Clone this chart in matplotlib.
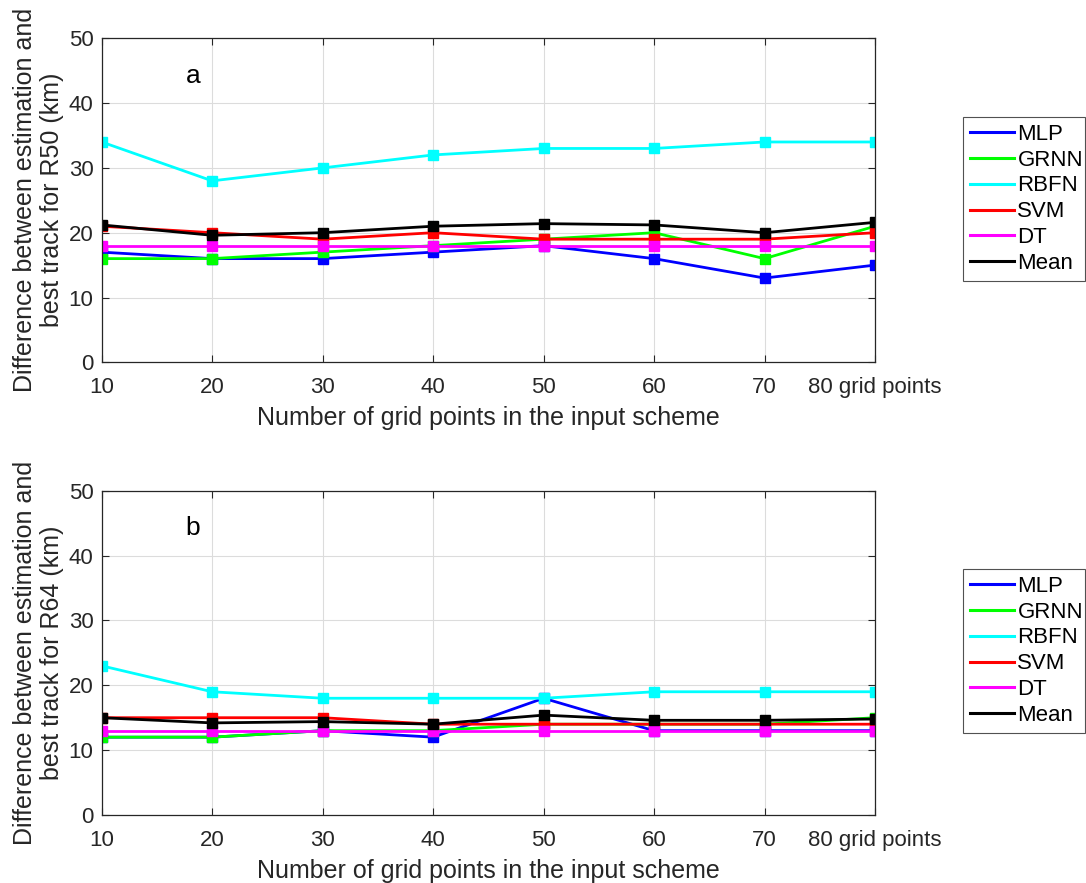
import matplotlib
matplotlib.use("Agg")
import matplotlib.pyplot as plt

plt.rcParams['font.family'] = ['Liberation Sans', 'DejaVu Sans']

x = [10, 20, 30, 40, 50, 60, 70, 80]
xticklabels = ['10', '20', '30', '40', '50', '60', '70', '80 grid points']
names = ['MLP', 'GRNN', 'RBFN', 'SVM', 'DT', 'Mean']
colors = ['#0000ff', '#00ff00', '#00ffff', '#ff0000', '#ff00ff', '#000000']

# Panel a: R50
mlp_a = [17, 16, 16, 17, 18, 16, 13, 15]
grnn_a = [16, 16, 17, 18, 19, 20, 16, 21]
rbfn_a = [34, 28, 30, 32, 33, 33, 34, 34]
svm_a = [21, 20, 19, 20, 19, 19, 19, 20]
dt_a = [18, 18, 18, 18, 18, 18, 18, 18]
mean_a = [21.2, 19.6, 20.0, 21.0, 21.4, 21.2, 20.0, 21.6]

# Panel b: R64
mlp_b = [12, 12, 13, 12, 18, 13, 13, 13]
grnn_b = [12, 12, 13, 13, 14, 14, 14, 15]
rbfn_b = [23, 19, 18, 18, 18, 19, 19, 19]
svm_b = [15, 15, 15, 14, 14, 14, 14, 14]
dt_b = [13, 13, 13, 13, 13, 13, 13, 13]
mean_b = [15.0, 14.2, 14.4, 14.0, 15.4, 14.6, 14.6, 14.8]

panels = [
    ('a', [mlp_a, grnn_a, rbfn_a, svm_a, dt_a, mean_a],
     'Difference between estimation and\nbest track for R50 (km)'),
    ('b', [mlp_b, grnn_b, rbfn_b, svm_b, dt_b, mean_b],
     'Difference between estimation and\nbest track for R64 (km)'),
]

W, H = 1086, 883
fig = plt.figure(figsize=(W / 100, H / 100), dpi=100)

axes_px = [(101.7, 38.3, 875, 362.3), (101.7, 490.7, 875, 815)]
legend_px = [(963, 117, 1085, 284), (963, 569, 1085, 736)]
txtcol = '#262626'

for (tag, series, ylab), (l, t, r, b), (ll, lt, lr, lb) in zip(panels, axes_px, legend_px):
    ax = fig.add_axes([l / W, 1 - b / H, (r - l) / W, (b - t) / H])
    handles = []
    for s, n, c in zip(series, names, colors):
        h, = ax.plot(x, s, color=c, lw=2.0, marker='s', markersize=7.5,
                     markerfacecolor=c, markeredgecolor=c, label=n)
        handles.append(h)
    ax.set_xlim(10, 80)
    ax.set_ylim(0, 50)
    ax.set_xticks(x)
    ax.set_xticklabels(xticklabels, va='baseline')
    ax.set_yticks([0, 10, 20, 30, 40, 50])
    ax.grid(True, color='#dcdcdc', lw=0.8)
    ax.tick_params(direction='in', top=True, right=True, labelsize=16,
                   colors=txtcol, length=5, width=0.8)
    ax.tick_params(axis='x', pad=22)
    ax.tick_params(axis='y', pad=6)
    for sp in ax.spines.values():
        sp.set_color(txtcol)
        sp.set_linewidth(0.9)
    ax.set_xlabel('Number of grid points in the input scheme', fontsize=18,
                  color=txtcol, labelpad=6)
    ax.set_ylabel(ylab, fontsize=18, color=txtcol, labelpad=3, linespacing=1.2)
    ax.text(0.118, 0.885, tag, transform=ax.transAxes, fontsize=19,
            color='black', ha='center', va='center')
    leg = fig.legend(handles=handles, loc='upper left',
                     bbox_to_anchor=(ll / W, 1 - lb / H, (lr - ll) / W, (lb - lt) / H),
                     mode='expand', fontsize=16, frameon=True, fancybox=False,
                     edgecolor=txtcol, handlelength=2.0, handletextpad=0.15,
                     borderpad=0.3, labelspacing=0.22, borderaxespad=0)
    leg.get_frame().set_linewidth(0.8)
    for hl in leg.get_lines():
        hl.set_marker('')
        hl.set_linewidth(2.2)

fig.savefig('out.png', dpi=100)
